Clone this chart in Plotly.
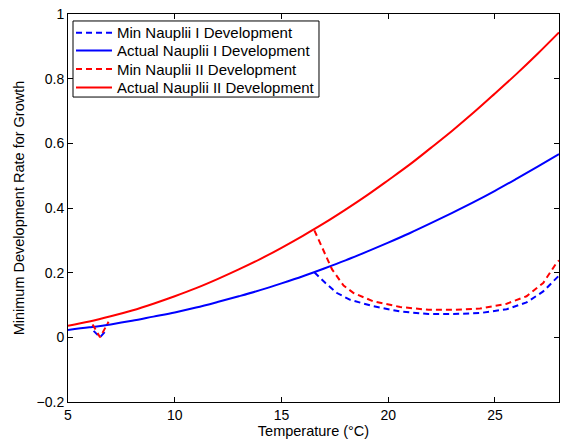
import plotly.graph_objects as go

# Temperatures for the "actual" development curves
temp = [5, 6, 7, 8, 9, 10, 11, 12, 13, 14, 15, 16, 17, 18, 19, 20, 21, 22, 23, 24, 25, 26, 27, 28]

actual_n1 = [0.023, 0.031, 0.040, 0.051, 0.064, 0.077, 0.092, 0.109, 0.127, 0.146, 0.167, 0.189,
             0.213, 0.238, 0.265, 0.293, 0.322, 0.353, 0.385, 0.418, 0.453, 0.490, 0.528, 0.567]
actual_n2 = [0.036, 0.049, 0.065, 0.083, 0.104, 0.127, 0.152, 0.180, 0.210, 0.242, 0.277, 0.314,
             0.353, 0.395, 0.439, 0.486, 0.534, 0.586, 0.639, 0.695, 0.754, 0.814, 0.877, 0.943]

# Minimum development curves (gaps where undefined)
min_n1_x = [6.2, 6.5, 6.8, None, 16.54, 17.06, 17.6, 18.22, 19.31, 20.56, 21.88, 23.05, 24.3, 25.55, 26.48, 27.26, 28.0]
min_n1_y = [0.020, 0.0, 0.022, None, 0.201, 0.168, 0.137, 0.116, 0.096, 0.080, 0.072, 0.072, 0.075, 0.087, 0.108, 0.142, 0.191]

min_n2_x = [6.15, 6.5, 6.9, None, 16.54, 16.98, 17.37, 17.91, 18.38, 19.31, 20.56, 21.88, 23.05, 24.3, 25.55, 26.48, 27.26, 27.88, 28.0]
min_n2_y = [0.040, 0.0, 0.048, None, 0.331, 0.266, 0.210, 0.160, 0.137, 0.111, 0.094, 0.085, 0.085, 0.089, 0.104, 0.127, 0.168, 0.230, 0.238]

series_names = ["Min Nauplii I Development", "Actual Nauplii I Development",
                "Min Nauplii II Development", "Actual Nauplii II Development"]

x_ticks = [5, 10, 15, 20, 25]
y_ticks = [-0.2, 0, 0.2, 0.4, 0.6, 0.8, 1]
y_tick_text = ["\u22120.2", "0", "0.2", "0.4", "0.6", "0.8", "1"]

BLUE = "#0000ff"
RED = "#ff0000"
DASH = "6px,4px"
FONT = "Liberation Sans, Arial, Helvetica"

series = [
    (min_n1_x, min_n1_y, BLUE, DASH, "linear"),
    (temp, actual_n1, BLUE, "solid", "spline"),
    (min_n2_x, min_n2_y, RED, DASH, "linear"),
    (temp, actual_n2, RED, "solid", "spline"),
]

fig = go.Figure()
for name, (xs, ys, col, dash, shp) in zip(series_names, series):
    fig.add_trace(go.Scatter(x=xs, y=ys, mode="lines", name=name, showlegend=False,
                             line=dict(color=col, width=2, dash=dash, shape=shp), connectgaps=False))

# Boxed legend in the top-left corner (paper coordinates)
shapes = [dict(type="rect", xref="paper", yref="paper", x0=0.0102, x1=0.5112, y0=0.786, y1=0.982,
               line=dict(color="black", width=1), fillcolor="white", layer="above")]
annotations = []
row_y = [0.9518, 0.9059, 0.8582, 0.8106]
for name, (_, _, col, dash, _), ry in zip(series_names, series, row_y):
    shapes.append(dict(type="line", xref="paper", yref="paper", x0=0.0163, x1=0.0896, y0=ry, y1=ry,
                       line=dict(color=col, width=2, dash=dash), layer="above"))
    annotations.append(dict(xref="paper", yref="paper", x=0.0957, y=ry, text=name, showarrow=False,
                            xanchor="left", yanchor="middle", font=dict(family=FONT, size=15, color="black")))

axis_common = dict(showgrid=False, zeroline=False, showline=True, linecolor="black", linewidth=1,
                   mirror="ticks", ticks="inside", ticklen=5, tickcolor="black", automargin=False,
                   tickfont=dict(family=FONT, size=14, color="black"))

fig.update_layout(
    template="none",
    width=562, height=442,
    margin=dict(l=68, r=3, t=14, b=40, pad=0),
    paper_bgcolor="white", plot_bgcolor="white",
    font=dict(family=FONT, size=14, color="black"),
    xaxis=dict(range=[5, 28], tickvals=x_ticks, ticktext=[str(v) for v in x_ticks],
               title=dict(text="Temperature (°C)", standoff=2, font=dict(size=14.5)), **axis_common),
    yaxis=dict(range=[-0.2, 1], tickvals=y_ticks, ticktext=y_tick_text,
               title=dict(text="Minimum Development Rate for Growth", standoff=8, font=dict(size=14.5)),
               **axis_common),
    shapes=shapes,
    annotations=annotations,
    showlegend=False,
)

fig.write_html("out.html", config={"displayModeBar": False},
               post_script="document.body.style.margin='0';document.body.style.overflow='hidden';")
